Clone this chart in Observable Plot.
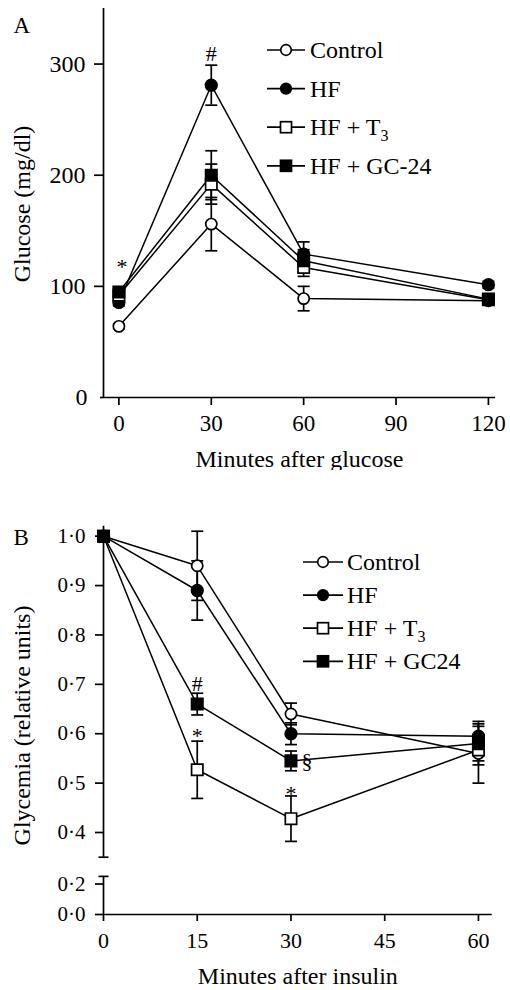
<!DOCTYPE html>
<html><head><meta charset="utf-8">
<script src="https://cdn.jsdelivr.net/npm/d3@7"></script>
<script src="https://cdn.jsdelivr.net/npm/@observablehq/plot@0.6"></script>
<style>
body{margin:0;background:#fff;}
#wrap{position:relative;width:510px;height:990px;font-family:"Liberation Serif","Times New Roman",serif;}
#wrap > svg{position:absolute;left:0;}
</style></head><body><div id="wrap"></div>
<script>
// ---------------- Panel A data (glucose tolerance) ----------------
const minutesA = [0, 30, 60, 120];
const groupsA = ["Control", "HF", "HF + T3", "HF + GC-24"];
const glucoseControl = [64, 156, 89, 87];
const glucoseHF = [85.5, 281, 129, 101.5];
const glucoseT3 = [92, 192, 117, 88];
const glucoseGC24 = [95, 200, 123, 88.5];
const semGlucoseControl = [2, 24, 11, 3];
const semGlucoseHF = [3, 18, 11, 3];
const semGlucoseT3 = [3, 18, 8, 3];
const semGlucoseGC24 = [3, 22, 10, 3];
const ticksXA = [0, 30, 60, 90, 120];
const ticksYA = [0, 100, 200, 300];
const annotTimeA = [0, 30];
const annotValueA = [121, 309];
const annotSymbolA = ["*", "#"];
const xLabelA = "Minutes after glucose";
const yLabelA = "Glucose (mg/dl)";

// ---------------- Panel B data (insulin tolerance) ----------------
const minutesB = [0, 15, 30, 60];
const groupsB = ["Control", "HF", "HF + T3", "HF + GC24"];
const glyControl = [1.0, 0.94, 0.64, 0.56];
const glyHF = [1.0, 0.89, 0.60, 0.595];
const glyT3 = [1.0, 0.527, 0.428, 0.567];
const glyGC24 = [1.0, 0.66, 0.545, 0.58];
const semGlyControl = [0, 0.07, 0.022, 0.06];
const semGlyHF = [0, 0.06, 0.022, 0.03];
const semGlyT3 = [0, 0.058, 0.046, 0.03];
const semGlyGC24 = [0, 0.022, 0.02, 0.035];
const ticksXB = [0, 15, 30, 45, 60];
const ticksYB = [0, 0.2, 0.4, 0.5, 0.6, 0.7, 0.8, 0.9, 1.0];
const annotTimeB = [15, 15, 30, 30];
const annotValueB = [0.70, 0.604, 0.486, 0.543];
const annotSymbolB = ["#", "*", "*", "§"];
const xLabelB = "Minutes after insulin";
const yLabelB = "Glycemia (relative units)";
const breakB = [0.25, 0.35];

// ---------------- helpers ----------------
const FONT = "Liberation Serif, Times New Roman, serif";
const SW = 1.7;
const styles = [
  {symbol: "circle", fill: "white", r: 5.6},
  {symbol: "circle", fill: "black", r: 5.8},
  {symbol: "square", fill: "white", r: 6.4},
  {symbol: "square", fill: "black", r: 6.4}
];
const cap = {draw(ctx, size) { const w = Math.sqrt(size / Math.PI); ctx.moveTo(-w, 0); ctx.lineTo(w, 0); }};

function tidy(times, groups, values, sems) {
  const rows = [];
  groups.forEach((g, gi) => times.forEach((t, i) => rows.push({g, gi, t, v: values[gi][i], e: sems[gi][i]})));
  return rows;
}
function annots(ts, vs, ss) { return ts.map((t, i) => ({t, v: vs[i], s: ss[i]})); }

function seriesMarks(rows, groups) {
  const marks = [];
  groups.forEach(g => marks.push(Plot.line(rows.filter(d => d.g === g), {x: "t", y: "v", stroke: "black", strokeWidth: 1.5})));
  const eb = rows.filter(d => d.e > 0);
  marks.push(Plot.ruleX(eb, {x: "t", y1: d => d.v - d.e, y2: d => d.v + d.e, stroke: "black", strokeWidth: SW}));
  marks.push(Plot.dot(eb, {x: "t", y: d => d.v + d.e, symbol: cap, r: 6, stroke: "black", fill: "none", strokeWidth: SW}));
  marks.push(Plot.dot(eb, {x: "t", y: d => d.v - d.e, symbol: cap, r: 6, stroke: "black", fill: "none", strokeWidth: SW}));
  groups.forEach((g, gi) => {
    const s = styles[gi];
    marks.push(Plot.dot(rows.filter(d => d.g === g), {x: "t", y: "v", symbol: s.symbol, r: s.r, fill: s.fill, stroke: "black", strokeWidth: SW}));
  });
  return marks;
}
function annotMarks(list, dxStar) {
  const dxOf = {"*": dxStar, "#": 0, "§": 16};
  const dyOf = {"*": 4, "#": 0, "§": -1};
  return list.map(a => Plot.text([a], {x: "t", y: "v", text: "s", fontSize: 22, dx: dxOf[a.s], dy: dyOf[a.s], fill: "black"}));
}

const wrap = document.getElementById("wrap");

// ---------------- Panel A ----------------
const xDomainA = [-5, 122.3];
const yDomainA = [0, 350];
const rowsA = tidy(minutesA, groupsA, [glucoseControl, glucoseHF, glucoseT3, glucoseGC24],
  [semGlucoseControl, semGlucoseHF, semGlucoseT3, semGlucoseGC24]);
const annA = annots(annotTimeA, annotValueA, annotSymbolA);

const plotA = Plot.plot({
  width: 510, height: 470,
  marginLeft: 103, marginRight: 15, marginTop: 8, marginBottom: 73,
  style: {fontFamily: FONT, background: "white", color: "black", overflow: "visible"},
  x: {domain: xDomainA},
  y: {domain: yDomainA},
  marks: [
    Plot.ruleX([xDomainA[0]], {y1: yDomainA[0], y2: yDomainA[1], strokeWidth: SW}),
    Plot.ruleY([yDomainA[0]], {x1: xDomainA[0], x2: xDomainA[1], strokeWidth: SW}),
    Plot.axisX({ticks: ticksXA, tickSize: 8, tickPadding: 9, fontSize: 23, label: null, strokeWidth: SW}),
    Plot.axisY({ticks: ticksYA.filter(d => d > 0), tickSize: 9, tickPadding: 9, fontSize: 24, label: null, strokeWidth: SW}),
    Plot.axisY({ticks: ticksYA.filter(d => d === 0), tickSize: 3, tickPadding: 13, fontSize: 24, label: null, strokeWidth: SW}),
    ...seriesMarks(rowsA, groupsA),
    ...annotMarks(annA, 3),
    Plot.text([xLabelA], {text: d => d, frameAnchor: "bottom", lineAnchor: "bottom", textAnchor: "middle", dy: 69, fontSize: 24}),
    Plot.text([yLabelA], {text: d => d, frameAnchor: "left", textAnchor: "middle", lineAnchor: "middle", rotate: -90, dx: -81.5, dy: 1, fontSize: 24}),
    Plot.text(["A"], {text: d => d, frameAnchor: "top-left", textAnchor: "start", lineAnchor: "top", dx: -90, dy: 8, fontSize: 23})
  ]
});
plotA.style.top = "0px";
wrap.appendChild(plotA);

// ---------------- Panel B ----------------
const xDomainB = [0, 62.2];
const yDomainB = [0, breakB[0], breakB[1], 1.02];
const rowsB = tidy(minutesB, groupsB, [glyControl, glyHF, glyT3, glyGC24],
  [semGlyControl, semGlyHF, semGlyT3, semGlyGC24]);
const annB = annots(annotTimeB, annotValueB, annotSymbolB);
const fmtB = d => d.toFixed(1).replace(".", "\u00b7");

const plotB = Plot.plot({
  width: 510, height: 520,
  marginLeft: 103, marginRight: 18.3, marginTop: 56, marginBottom: 76,
  style: {fontFamily: FONT, background: "white", color: "black", overflow: "visible"},
  x: {domain: xDomainB},
  y: {type: "linear", domain: yDomainB, range: [444, 405.9, 386.7, 55.8]},
  marks: [
    Plot.ruleX([xDomainB[0]], {y1: yDomainB[0], y2: yDomainB[1], strokeWidth: SW}),
    Plot.ruleX([xDomainB[0]], {y1: yDomainB[2], y2: yDomainB[3], strokeWidth: SW}),
    Plot.dot(breakB, {x: xDomainB[0], y: d => d, symbol: cap, r: 5, stroke: "black", fill: "none", strokeWidth: SW}),
    Plot.ruleY([yDomainB[0]], {x1: xDomainB[0], x2: xDomainB[1], strokeWidth: SW}),
    Plot.axisX({ticks: ticksXB, tickSize: 7, tickPadding: 11, fontSize: 22, label: null, strokeWidth: SW}),
    Plot.axisY({ticks: ticksYB, tickFormat: fmtB, tickSize: 8, tickPadding: 10, fontSize: 21, label: null, strokeWidth: SW}),
    ...seriesMarks(rowsB, groupsB),
    ...annotMarks(annB, 0),
    Plot.text([xLabelB], {text: d => d, frameAnchor: "bottom", lineAnchor: "bottom", textAnchor: "middle", dy: 69.5, fontSize: 24}),
    Plot.text([yLabelB], {text: d => d, frameAnchor: "left", textAnchor: "middle", lineAnchor: "middle", rotate: -90, dx: -81.5, dy: 5, fontSize: 24}),
    Plot.text(["B"], {text: d => d, frameAnchor: "top-left", textAnchor: "start", lineAnchor: "top", dx: -90, dy: 2.5, fontSize: 23})
  ]
});
plotB.style.top = "470px";
wrap.appendChild(plotB);

// ---------------- Legends (overlay) ----------------
const overlay = d3.select(wrap).append("svg")
  .attr("width", 510).attr("height", 990)
  .style("position", "absolute").style("left", "0px").style("top", "0px")
  .style("pointer-events", "none");

function drawLegend(groups, cfg) {
  groups.forEach((g, i) => {
    const y = cfg.y0 + i * cfg.step;
    const s = styles[i];
    const row = overlay.append("g");
    row.append("line").attr("x1", cfg.x0).attr("x2", cfg.x1).attr("y1", y).attr("y2", y)
      .attr("stroke", "black").attr("stroke-width", SW);
    if (s.symbol === "circle") {
      row.append("circle").attr("cx", cfg.xm).attr("cy", y).attr("r", 5.3)
        .attr("fill", s.fill).attr("stroke", "black").attr("stroke-width", SW);
    } else {
      row.append("rect").attr("x", cfg.xm - 5.5).attr("y", y - 5.5).attr("width", 11).attr("height", 11)
        .attr("fill", s.fill).attr("stroke", "black").attr("stroke-width", SW);
    }
    const t = row.append("text").attr("x", cfg.xt).attr("y", y + 8)
      .attr("font-family", FONT).attr("font-size", 24).attr("fill", "black");
    const m = g.match(/^(.*T)(\d)$/);
    if (m) {
      t.append("tspan").text(m[1]);
      t.append("tspan").attr("font-size", 16).attr("dy", 6).text(m[2]);
    } else {
      t.text(g);
    }
  });
}
drawLegend(groupsA, {y0: 50, step: 38.6, x0: 267, x1: 305, xm: 286, xt: 310});
drawLegend(groupsB, {y0: 562, step: 33.1, x0: 303, x1: 343, xm: 323, xt: 347});
</script>
</body></html>
